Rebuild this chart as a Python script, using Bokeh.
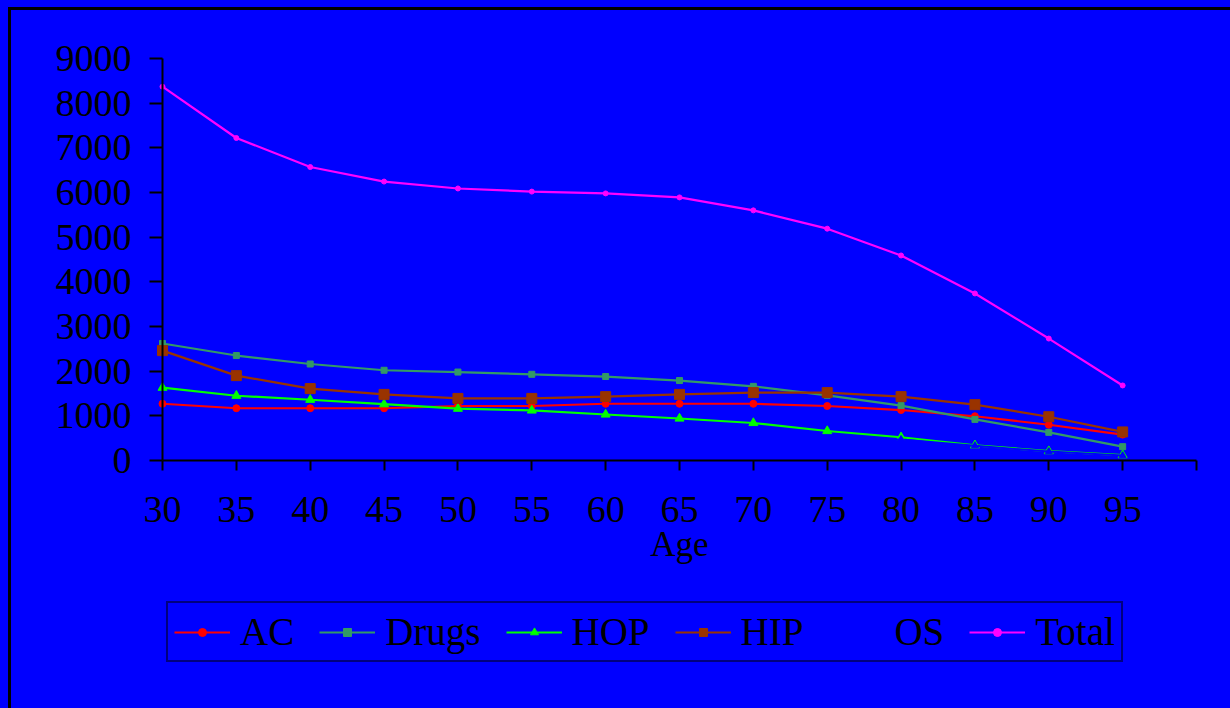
from bokeh.plotting import figure
from bokeh.layouts import column
from bokeh.models import Range1d, FixedTicker, Legend, LegendItem
from bokeh.embed import file_html
from bokeh.resources import INLINE

# ---------------- data ----------------
ages = [30, 35, 40, 45, 50, 55, 60, 65, 70, 75, 80, 85, 90, 95]
ac = [1270, 1170, 1170, 1170, 1220, 1220, 1270, 1270, 1270, 1220, 1130, 990, 800, 580]
drugs = [2620, 2350, 2160, 2020, 1980, 1930, 1880, 1790, 1660, 1460, 1230, 920, 630, 310]
hop = [1630, 1450, 1360, 1260, 1160, 1120, 1030, 940, 840, 660, 520, 340, 210, 120]
hip = [2460, 1900, 1610, 1480, 1390, 1390, 1430, 1480, 1520, 1520, 1430, 1250, 980, 640]
os_ = [150, 170, 190, 210, 230, 260, 300, 340, 380, 420, 470, 330, 200, 110]
total = [8370, 7220, 6570, 6245, 6090, 6020, 5980, 5890, 5600, 5190, 4590, 3740, 2730, 1680]

x_ticks = [30, 35, 40, 45, 50, 55, 60, 65, 70, 75, 80, 85, 90, 95, 100]
y_ticks = [0, 1000, 2000, 3000, 4000, 5000, 6000, 7000, 8000, 9000]

BLUE = "#0000FF"
FONT = "Liberation Serif"

# page geometry (pixels)
OX, OY = 8, 7               # chart-area box corner
BW = 3                      # its border width
CX, CY = OX + BW, OY + BW   # canvas origin on the page
W, H = 1230 - OX, 708 - OY
AXL, AXR = 162, 1196        # page x of age 30 and age 100
AX0, AXT = 460, 58          # page y of value 0 and value 9000
FR_L, FR_R, FR_T, FR_B = 20, 1215, 40, 690
X_MIN, X_MAX = 30, 100
Y_MIN, Y_MAX = 0, 9000
xs = (X_MAX - X_MIN) / (AXR - AXL)
ys = (Y_MAX - Y_MIN) / (AX0 - AXT)
xr = Range1d(X_MIN - (AXL - FR_L) * xs, X_MAX + (FR_R - AXR) * xs)
yr = Range1d(Y_MIN - (FR_B - AX0) * ys, Y_MAX + (AXT - FR_T) * ys)

p = figure(width=W, height=H, output_backend="svg", toolbar_location=None,
           x_range=xr, y_range=yr,
           min_border_left=FR_L - CX, min_border_right=W - (FR_R - CX),
           min_border_top=FR_T - CY, min_border_bottom=H - (FR_B - CY),
           margin=(OY, 0, 0, OX),
           styles={"border-top": "3px solid black", "border-left": "3px solid black"})
p.background_fill_color = BLUE
p.background_fill_alpha = 0
p.border_fill_color = BLUE
p.outline_line_color = None
p.grid.visible = False

# axes
p.xaxis.ticker = FixedTicker(ticks=x_ticks)
p.xaxis.major_label_overrides = {100: ""}
p.xaxis.fixed_location = Y_MIN
p.xaxis.bounds = (X_MIN, X_MAX)
p.yaxis.ticker = FixedTicker(ticks=y_ticks)
p.yaxis.fixed_location = X_MIN
p.yaxis.bounds = (Y_MIN, Y_MAX)
for ax in (p.xaxis[0], p.yaxis[0]):
    ax.axis_line_color = "black"
    ax.axis_line_width = 2
    ax.major_tick_line_color = "black"
    ax.major_tick_line_width = 2
    ax.major_tick_in = 0
    ax.minor_tick_line_color = None
    ax.major_label_text_font = FONT
    ax.major_label_text_color = "black"
    ax.major_label_text_font_size = "38px"
p.xaxis.major_tick_out = 10
p.yaxis.major_tick_out = 13
p.xaxis.major_label_standoff = 26
p.yaxis.major_label_standoff = 18
p.xaxis.axis_label = "Age"
p.xaxis.axis_label_text_font = FONT
p.xaxis.axis_label_text_font_style = "normal"
p.xaxis.axis_label_text_font_size = "35px"
p.xaxis.axis_label_text_color = "black"
p.xaxis.axis_label_standoff = 0

# series
r_ac_l = p.line(ages, ac, line_color="#FF0000", line_width=2.2)
r_ac_m = p.scatter(ages, ac, marker="circle", size=7, color="#FF0000")
r_dr_l = p.line(ages, drugs, line_color="#339966", line_width=2.2)
r_dr_m = p.scatter(ages, drugs, marker="square", size=6, color="#339966")
r_hop_l = p.line(ages, hop, line_color="#00FF00", line_width=2.2)
r_hop_m = p.scatter(ages, hop, marker="triangle", size=9, color="#00FF00")
r_hip_l = p.line(ages, hip, line_color="#993300", line_width=2.2)
r_hip_m = p.scatter(ages, hip, marker="square", size=10, color="#993300")
r_os_l = p.line(ages, os_, line_color=BLUE, line_width=2)
r_os_m = p.scatter(ages, os_, marker="triangle", size=7, color=BLUE)
r_tot_l = p.line(ages, total, line_color="#FF00FF", line_width=2.2)
r_tot_m = p.scatter(ages, total, marker="circle", size=5, color="#FF00FF")

legend = Legend(items=[
    LegendItem(label="AC", renderers=[r_ac_l, r_ac_m]),
    LegendItem(label="Drugs", renderers=[r_dr_l, r_dr_m]),
    LegendItem(label="HOP", renderers=[r_hop_l, r_hop_m]),
    LegendItem(label="HIP", renderers=[r_hip_l, r_hip_m]),
    LegendItem(label="OS", renderers=[r_os_l, r_os_m]),
    LegendItem(label="Total", renderers=[r_tot_l, r_tot_m]),
], orientation="horizontal", location=(166 - FR_L, FR_B - 662))
legend.background_fill_color = BLUE
legend.background_fill_alpha = 1
legend.border_line_color = "black"
legend.border_line_width = 2
legend.label_text_font = FONT
legend.label_text_font_size = "39px"
legend.label_text_color = "black"
legend.glyph_width = 56
legend.label_standoff = 10
legend.spacing = 25
legend.padding = 6
legend.margin = 0
p.add_layout(legend, "center")

page = column(p, width=1230, height=708, styles={"background-color": BLUE})

open("out.html", "w").write(file_html(page, INLINE))
